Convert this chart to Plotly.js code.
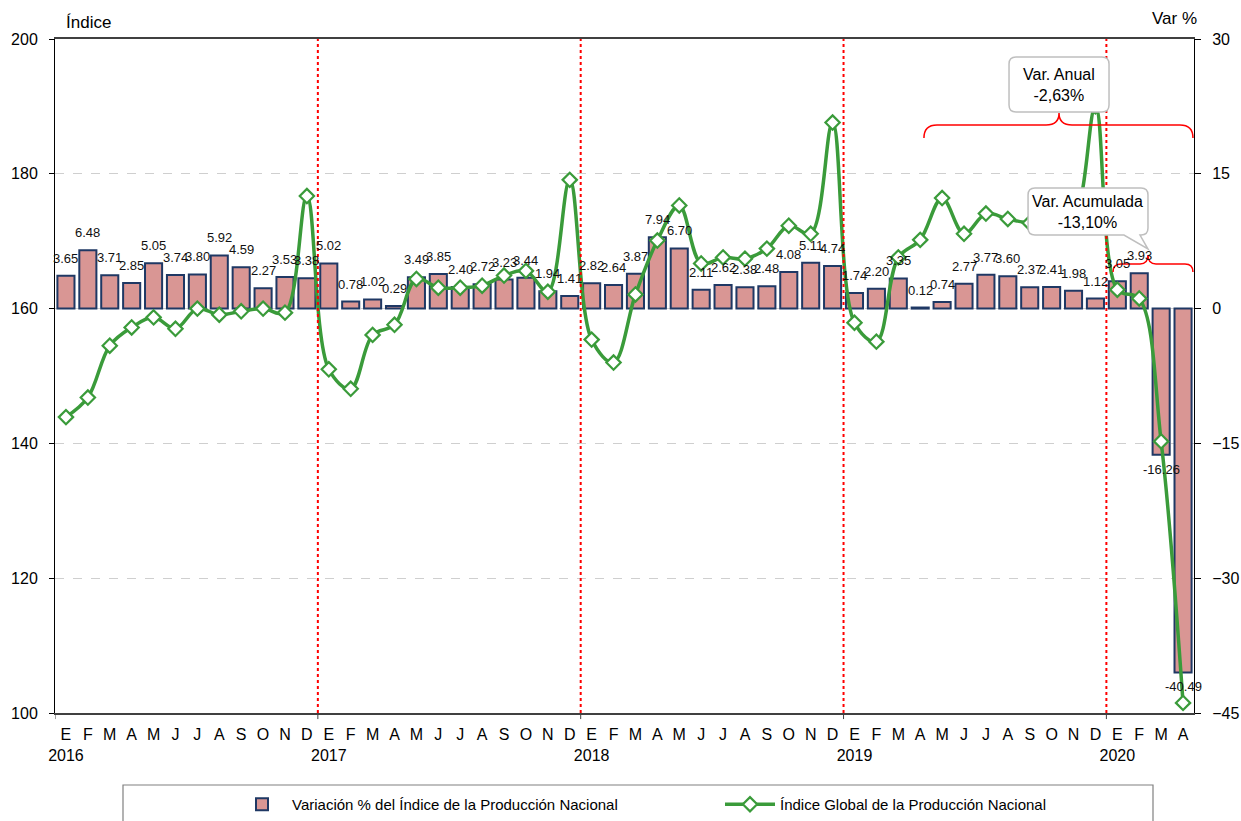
<!DOCTYPE html>
<html>
<head>
<meta charset="utf-8">
<script src="https://cdn.plot.ly/plotly-3.0.1.min.js"></script>
<style>
  html, body { margin: 0; padding: 0; background: #fff; }
  #chart { width: 1241px; height: 821px; }
</style>
</head>
<body>
<div id="chart"></div>
<script>
// Índice Global de la Producción Nacional, E 2016 - A 2020
var MONTHS = ["E", "F", "M", "A", "M", "J", "J", "A", "S", "O", "N", "D"];
var YEARS = [2016, 2017, 2018, 2019, 2020];
var MONTHS_IN_LAST_YEAR = 4;

// Var % (right axis), one per month
var VAR_PCT = [
  3.65, 6.48, 3.71, 2.85, 5.05, 3.74, 3.80, 5.92, 4.59, 2.27, 3.53, 3.38,
  5.02, 0.78, 1.02, 0.29, 3.49, 3.85, 2.40, 2.72, 3.23, 3.44, 1.94, 1.41,
  2.82, 2.64, 3.87, 7.94, 6.70, 2.11, 2.62, 2.38, 2.48, 4.08, 5.11, 4.74,
  1.74, 2.20, 3.35, 0.12, 0.74, 2.77, 3.77, 3.60, 2.37, 2.41, 1.98, 1.12,
  3.05, 3.93, -16.26, -40.49
];

// Índice (left axis)
var INDICE = [
  143.9, 146.8, 154.5, 157.2, 158.7, 157.0, 160.0, 159.1, 159.6, 160.0, 159.4, 176.7,
  151.0, 148.1, 156.1, 157.6, 164.4, 163.1, 163.1, 163.4, 164.9, 165.6, 162.5, 179.1,
  155.4, 152.0, 162.1, 170.1, 175.3, 166.7, 167.6, 167.4, 168.9, 172.3, 171.1, 187.6,
  157.9, 155.1, 167.6, 170.2, 176.4, 171.1, 174.1, 173.3, 172.7, 173.0, 173.6, 190.0,
  162.8, 161.5, 140.3, 101.5
];

var VAR_ANUAL_TEXT = "Var. Anual<br>-2,63%";
var VAR_ACUM_TEXT = "Var. Acumulada<br>-13,10%";

var FONT = '"Liberation Sans Narrow", "Arial Narrow", "Liberation Sans", Arial, sans-serif';
var GREEN = "#3a9b3a";
var RED = "#ff0000";

// categories (unique ids) and tick texts
var cats = [], tickText = [];
YEARS.forEach(function (yr, yi) {
  var n = yi === YEARS.length - 1 ? MONTHS_IN_LAST_YEAR : 12;
  for (var m = 0; m < n; m++) {
    cats.push(yr + "-" + (m + 1));
    tickText.push(m === 0 ? MONTHS[m] + "<br>" + yr : MONTHS[m]);
  }
});

// plot area in pixels, used for the decorations only
var W = 1241, H = 821;
var L = 55, R = 1194, T = 39, B = 713;
function px(x) { return +((x - L) / (R - L)).toFixed(4); }
function py(y) { return +((B - y) / (B - T)).toFixed(4); }
function path(cmds) {
  return cmds.map(function (c) {
    var s = c[0];
    for (var k = 1; k < c.length; k += 2) s += " " + px(c[k]) + "," + py(c[k + 1]);
    return s;
  }).join(" ");
}

var bars = {
  type: "bar",
  name: "Variación % del Índice de la Producción Nacional",
  x: cats,
  y: VAR_PCT,
  yaxis: "y",
  width: 0.78,
  marker: { color: "#d99694", line: { color: "#1f3864", width: 2 } },
  hoverinfo: "x+y"
};

var line = {
  type: "scatter",
  mode: "lines+markers",
  name: "Índice Global de la Producción Nacional",
  x: cats,
  y: INDICE,
  yaxis: "y2",
  line: { color: GREEN, width: 3.5, shape: "spline", smoothing: 1 },
  marker: { symbol: "diamond", size: 11, color: "#ffffff", line: { color: GREEN, width: 2.2 } },
  cliponaxis: false
};

var annotations = VAR_PCT.map(function (v, i) {
  return {
    x: cats[i], y: v, xref: "x", yref: "y",
    text: v.toFixed(2), showarrow: false,
    yanchor: v >= 0 ? "bottom" : "top",
    yshift: v >= 0 ? 8 : -5,
    font: { family: FONT, size: 13, color: "#111" }
  };
});

annotations.push(
  { xref: "paper", yref: "paper", x: px(64), y: py(22), xanchor: "left", yanchor: "middle",
    text: "Índice", showarrow: false, font: { family: FONT, size: 17, color: "#000" } },
  { xref: "paper", yref: "paper", x: px(1199), y: py(19), xanchor: "right", yanchor: "middle",
    text: "Var %", showarrow: false, font: { family: FONT, size: 17, color: "#000" } },
  { xref: "paper", yref: "paper", x: px(1059), y: py(85), xanchor: "center", yanchor: "middle",
    text: VAR_ANUAL_TEXT, showarrow: false, font: { family: FONT, size: 16, color: "#000" } },
  { xref: "paper", yref: "paper", x: px(1088), y: py(212), xanchor: "center", yanchor: "middle",
    text: VAR_ACUM_TEXT, showarrow: false, font: { family: FONT, size: 16, color: "#000" } }
);

var shapes = [];
// year separators
[11.5, 23.5, 35.5, 47.5].forEach(function (xb) {
  shapes.push({ type: "line", xref: "x", yref: "paper", x0: xb, x1: xb, y0: 0, y1: 1,
    line: { color: RED, width: 2, dash: "dot" }, layer: "above" });
});
// small ticks at year starts on the x axis
[-0.5, 11.5, 23.5, 35.5, 47.5].forEach(function (xb) {
  shapes.push({ type: "line", xref: "x", yref: "paper", x0: xb, x1: xb, y0: 0, y1: -0.009,
    line: { color: "#404040", width: 1 } });
});
// braces
shapes.push({ type: "path", xref: "paper", yref: "paper", layer: "above",
  line: { color: RED, width: 1.5 },
  path: path([["M", 924, 138], ["Q", 924, 125, 937, 125], ["L", 1046, 125],
    ["Q", 1059, 125, 1059, 113], ["Q", 1059, 125, 1072, 125], ["L", 1180, 125],
    ["Q", 1193, 125, 1193, 138]]) });
shapes.push({ type: "path", xref: "paper", yref: "paper", layer: "above",
  line: { color: RED, width: 1.5 },
  path: path([["M", 1113, 272], ["Q", 1113, 264, 1121, 264], ["L", 1140, 264],
    ["Q", 1148, 264, 1148, 255], ["Q", 1148, 264, 1156, 264], ["L", 1185, 264],
    ["Q", 1193, 264, 1193, 272]]) });
// callout boxes
shapes.push({ type: "path", xref: "paper", yref: "paper", layer: "above",
  fillcolor: "#ffffff", line: { color: "#bfbfbf", width: 1.5 },
  path: path([["M", 1016, 57], ["L", 1102, 57], ["Q", 1109, 57, 1109, 64], ["L", 1109, 105],
    ["Q", 1109, 112, 1102, 112], ["L", 1016, 112], ["Q", 1009, 112, 1009, 105], ["L", 1009, 64],
    ["Q", 1009, 57, 1016, 57]]) + " Z" });
shapes.push({ type: "path", xref: "paper", yref: "paper", layer: "above",
  fillcolor: "#ffffff", line: { color: "#bfbfbf", width: 1.5 },
  path: path([["M", 1035, 188], ["L", 1141, 188], ["Q", 1148, 188, 1148, 195], ["L", 1148, 228],
    ["Q", 1148, 235, 1141, 235], ["L", 1140, 235], ["L", 1148, 249], ["L", 1124, 235],
    ["L", 1035, 235], ["Q", 1028, 235, 1028, 228], ["L", 1028, 195],
    ["Q", 1028, 188, 1035, 188]]) + " Z" });
// legend frame
shapes.push({ type: "rect", xref: "paper", yref: "paper",
  x0: px(123), x1: px(1153), y0: py(785), y1: py(840),
  line: { color: "#808080", width: 1.2 }, fillcolor: "rgba(0,0,0,0)" });

var tickFont = { family: FONT, size: 16, color: "#000" };

var layout = {
  width: W, height: H,
  margin: { l: L, r: W - R, t: T, b: H - B, autoexpand: false },
  paper_bgcolor: "#fff", plot_bgcolor: "#fff",
  showlegend: true,
  xaxis: {
    type: "category", range: [-0.5, cats.length - 0.5],
    tickvals: cats, ticktext: tickText, ticks: "", tickfont: tickFont, tickangle: 0,
    showline: true, linecolor: "#404040", linewidth: 2, mirror: true,
    showgrid: false, zeroline: false, ticklabelstandoff: 6, automargin: false
  },
  yaxis: {
    side: "right", range: [-45, 30], tickvals: [-45, -30, -15, 0, 15, 30],
    tickfont: tickFont, ticks: "outside", ticklen: 6, tickcolor: "#000",
    showline: true, linecolor: "#000", linewidth: 1,
    showgrid: true, gridcolor: "#cfcfcf", griddash: "dash", gridwidth: 1,
    zeroline: false, ticklabelstandoff: 8, automargin: false
  },
  yaxis2: {
    overlaying: "y", side: "left", range: [100, 200], tickvals: [100, 120, 140, 160, 180, 200],
    tickfont: tickFont, ticks: "outside", ticklen: 5, tickcolor: "#000",
    showline: true, linecolor: "#000", linewidth: 1,
    showgrid: false, zeroline: false, ticklabelstandoff: 8, automargin: false
  },
  legend: {
    orientation: "h", xref: "container", yref: "container",
    x: 232 / W, xanchor: "left", y: 1 - 788 / H, yanchor: "top",
    entrywidth: 423, entrywidthmode: "pixels", itemwidth: 50,
    font: { family: FONT, size: 15, color: "#000" }, bgcolor: "rgba(0,0,0,0)"
  },
  annotations: annotations,
  shapes: shapes
};

Plotly.newPlot("chart", [bars, line], layout, { displayModeBar: false, responsive: false });
</script>
</body>
</html>
